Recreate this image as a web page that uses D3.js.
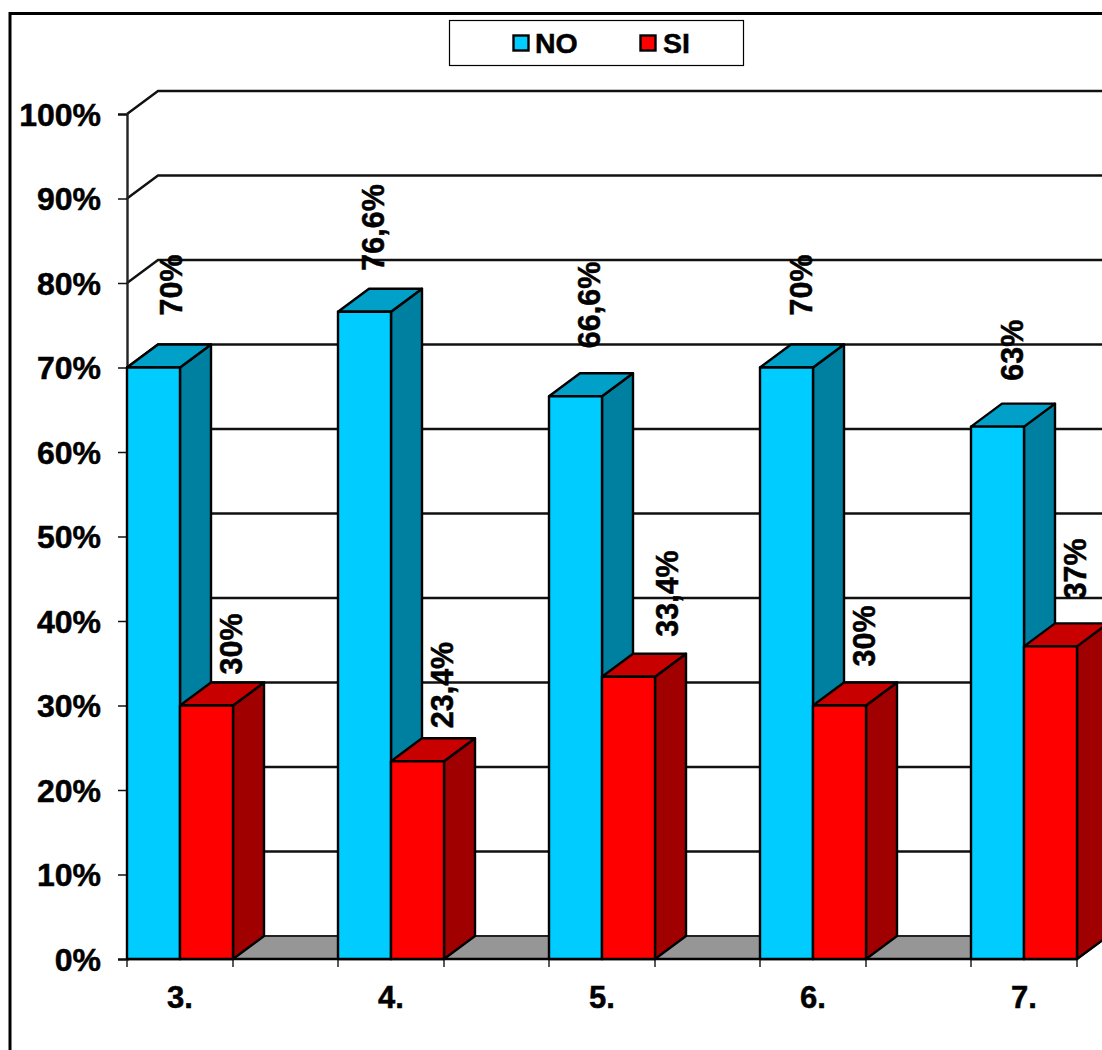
<!DOCTYPE html>
<html><head><meta charset="utf-8">
<script src="https://cdnjs.cloudflare.com/ajax/libs/d3/7.8.5/d3.min.js"></script>
<style>html,body{margin:0;padding:0;background:#fff;overflow:hidden}svg{display:block}text{font-family:"Liberation Sans",Arial,sans-serif;font-weight:700;fill:#000;stroke:#000;stroke-width:.5px}</style>
</head><body><svg id="c" width="1102" height="1050"></svg>
<script>
const categories = ["3.","4.","5.","6.","7."];
const seriesNames = ["NO","SI"];
const noValues = [70,76.6,66.6,70,63];
const siValues = [30,23.4,33.4,30,37];
const noLabels = ["70%","76,6%","66,6%","70%","63%"];
const siLabels = ["30%","23,4%","33,4%","30%","37%"];
const yTicks = d3.range(0,101,10);
// label placement, px gap above the bar's front top edge and offset from its right edge
const noLabelGap = [52,41,48,52,46];
const siLabelGap = [31,33,40,39,47];
const noLabelX = [2,-7,-2,-1,-1];
const siLabelX = [9,9,23,9,9];

const W=1102,H=1050,x0=127,y0=959,y100=114,dx=31,dy=-23,step=211,barW=53;
const svg=d3.select("#c");
const y=d3.scaleLinear().domain([0,100]).range([y0,y100]);
const xBand=d3.scaleBand().domain(categories).range([x0,x0+step*categories.length]);
const xInner=d3.scaleBand().domain(seriesNames).range([0,barW*2]);
const palette={NO:{front:"#00CCFF",top:"#00A0C8",side:"#0080A0"},SI:{front:"#FF0000",top:"#C80000",side:"#A00000"}};
const ink="#000";
const xEnd=xBand(categories[categories.length-1])+barW*2;

svg.append("rect").attr("x",10).attr("y",13.5).attr("width",W+50).attr("height",H+50).attr("fill","#fff").attr("stroke",ink).attr("stroke-width",3);

// walls
const grid=svg.append("g").attr("fill","none").attr("stroke","#111").attr("stroke-width",2.4);
yTicks.filter(d=>d>0).forEach(d=>{
  grid.append("path").attr("d",d3.line()([[x0,y(d)],[x0+dx,y(d)+dy],[W+10,y(d)+dy]]));
});
// floor
svg.append("path").attr("d",d3.line()([[x0,y0],[x0+dx,y0+dy],[xEnd+dx,y0+dy],[xEnd,y0]])+"Z").attr("fill","#969696").attr("stroke","#222").attr("stroke-width",2);

// axes
const axL=svg.append("g").attr("transform",`translate(${x0},0)`).call(d3.axisLeft(y).tickValues(yTicks).tickSize(9).tickPadding(17).tickFormat(d=>d+"%"));
axL.select(".domain").attr("stroke","#222").attr("stroke-width",2.4);
axL.selectAll("line").attr("stroke","#111").attr("stroke-width",1.5);
axL.selectAll("text").attr("font-size",32).attr("dy","0.35em");
const axB=svg.append("g").attr("transform",`translate(0,${y0})`).call(d3.axisBottom(xBand).tickSize(0).tickPadding(0));
axB.selectAll("g.tick").attr("transform",d=>`translate(${xBand(d)+barW},0)`);
axB.selectAll("text").attr("font-size",31).attr("y",38).attr("dy","0.35em");
axB.select(".domain").attr("d",`M${x0},0H${xEnd}`).attr("stroke",ink).attr("stroke-width",2.4);
const tickXs=categories.flatMap(c=>[xBand(c),xBand(c)+barW*2]);
svg.append("g").selectAll("line").data(tickXs).join("line").attr("x1",d=>d).attr("x2",d=>d).attr("y1",y0).attr("y2",y0+8).attr("stroke","#222").attr("stroke-width",1.5);

// bars
const bar=svg.append("g").attr("stroke",ink).attr("stroke-width",2.4).attr("stroke-linejoin","round");
const labelsG=svg.append("g");
categories.forEach((c,i)=>{
  [[ "NO",noValues[i],noLabels[i],noLabelGap[i],noLabelX[i]],["SI",siValues[i],siLabels[i],siLabelGap[i],siLabelX[i]]].forEach(([s,v,lab,gap,lx])=>{
    const l=xBand(c)+xInner(s), r=l+xInner.bandwidth(), t=y(v), p=palette[s];
    bar.append("path").attr("fill",p.side).attr("d",d3.line()([[r,t],[r+dx,t+dy],[r+dx,y0+dy],[r,y0]])+"Z");
    bar.append("path").attr("fill",p.top).attr("d",d3.line()([[l,t],[l+dx,t+dy],[r+dx,t+dy],[r,t]])+"Z");
    bar.append("rect").attr("x",l).attr("y",t).attr("width",r-l).attr("height",y0-t).attr("fill",p.front);
    labelsG.append("text").attr("font-size",30.5).attr("text-anchor","start")
      .attr("transform",`translate(${r+lx},${t-gap}) rotate(-90)`).text(lab);
  });
});

// legend
const lg=svg.append("g");
lg.append("rect").attr("x",449.5).attr("y",20.5).attr("width",294).attr("height",45).attr("fill","#fff").attr("stroke",ink).attr("stroke-width",1.2);
seriesNames.forEach((s,i)=>{
  const sx=[513.5,640.5][i], tx=[535,663][i];
  lg.append("rect").attr("x",sx).attr("y",35.5).attr("width",15).attr("height",15).attr("fill",palette[s].front).attr("stroke",ink).attr("stroke-width",2.4);
  lg.append("text").attr("x",tx).attr("y",53).attr("font-size",28.5).text(s);
});
</script></body></html>
